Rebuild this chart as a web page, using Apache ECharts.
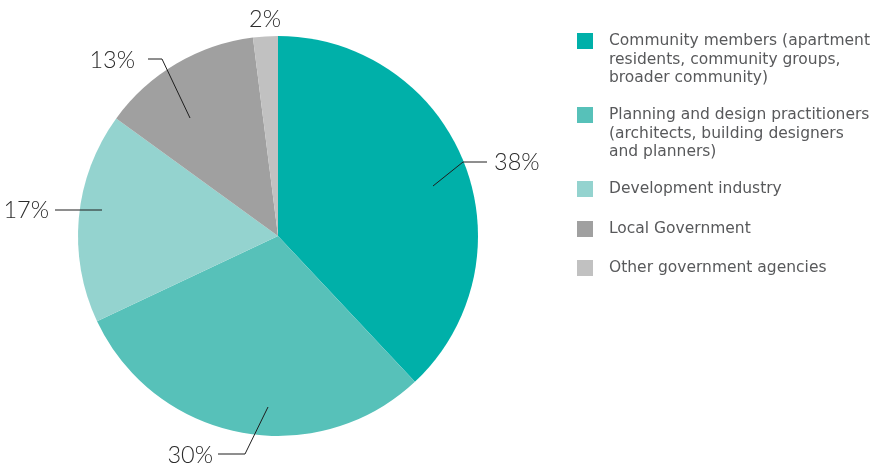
<!DOCTYPE html>
<html>
<head>
<meta charset="utf-8">
<script src="https://cdn.jsdelivr.net/npm/echarts@6/dist/echarts.min.js"></script>
<style>
  html, body { margin: 0; padding: 0; background: #fff; }
  #chart { width: 875px; height: 467px; }
</style>
</head>
<body>
<div id="chart"></div>
<script>
// Survey respondents by stakeholder group (share of responses, %)
const categories = [
  'Community members (apartment\nresidents, community groups,\nbroader community)',
  'Planning and design practitioners\n(architects, building designers\nand planners)',
  'Development industry',
  'Local Government',
  'Other government agencies'
];
const shares = [38, 30, 17, 13, 2];
const colors = ['#00b0a9', '#57c1b9', '#94d3cf', '#a0a0a0', '#c1c1c1'];

// Callout placement for the percentage labels (label anchor + leader line)
const callouts = [
  { x: 494, y: 162, align: 'left',   line: [[433, 186], [463, 162], [487, 162]] },
  { x: 213, y: 455, align: 'right',  line: [[268, 407], [245, 454], [218, 454]] },
  { x: 49,  y: 210, align: 'right',  line: [[102, 210], [78, 210], [55, 210]] },
  { x: 135, y: 60,  align: 'right',  line: [[190, 118], [162, 59], [148, 59]] },
  { x: 265, y: 19,  align: 'center', line: null }
];

// Vertical centre of each legend swatch
const legendCenters = [41, 115, 189, 229, 268];
const LH = 18.5;

const chart = echarts.init(document.getElementById('chart'), null, { renderer: 'canvas' });

// One legend block per entry so each swatch lines up with the first line of its text
const legends = categories.map((name, i) => {
  const lines = name.split('\n').length;
  return {
    data: [name],
    orient: 'vertical',
    left: 577,
    top: legendCenters[i] - (2 * lines - 1) * LH / 2,
    padding: 0,
    itemWidth: 16,
    itemHeight: 16,
    itemGap: 0,
    icon: 'rect',
    selectedMode: false,
    formatter: function (n) {
      const k = n.split('\n').length - 1;
      return '\n'.repeat(k) + n;
    },
    textStyle: {
      fontFamily: 'DejaVu Sans',
      fontSize: 15.5,
      color: '#58595b',
      lineHeight: LH,
      padding: [0, 0, 0, 11]
    }
  };
});

const pieData = categories.map((name, i) => ({ name: name, value: shares[i] }));

chart.setOption({
  animation: false,
  color: colors,
  legend: legends,
  series: [
    {
      // filled slices
      type: 'pie',
      z: 2,
      center: [278, 236],
      radius: 200,
      startAngle: 90,
      clockwise: true,
      itemStyle: { borderWidth: 0 },
      label: { show: false },
      labelLine: { show: false },
      emphasis: { disabled: true },
      data: pieData
    },
    {
      // percentage callouts drawn above the slices
      type: 'pie',
      z: 3,
      center: [278, 236],
      radius: 200,
      startAngle: 90,
      clockwise: true,
      avoidLabelOverlap: false,
      legendHoverLink: false,
      silent: true,
      itemStyle: { color: 'rgba(0,0,0,0)', borderWidth: 0 },
      label: {
        show: true,
        position: 'outside',
        formatter: '{c}%',
        fontFamily: 'Lato',
        fontWeight: 300,
        fontSize: 23.5,
        color: '#2b2b2b'
      },
      labelLine: {
        show: true,
        lineStyle: { color: '#1e1e1e', width: 1 }
      },
      labelLayout: function (params) {
        const c = callouts[params.dataIndex];
        return {
          x: c.x,
          y: c.y,
          align: c.align,
          verticalAlign: 'middle',
          labelLinePoints: c.line ? c.line : [[0, 0], [0, 0], [0, 0]]
        };
      },
      data: pieData
    }
  ]
});
</script>
</body>
</html>
